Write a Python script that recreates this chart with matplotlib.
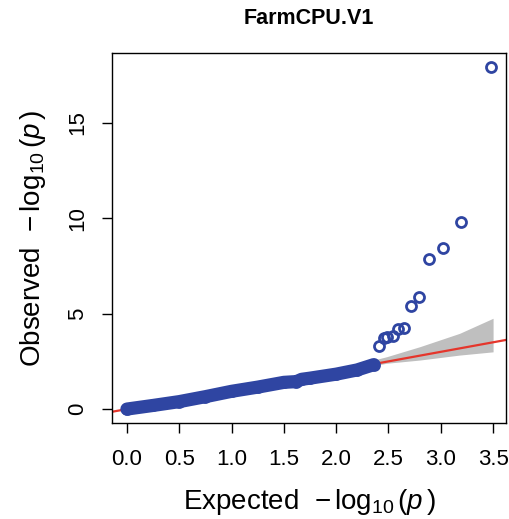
import matplotlib
matplotlib.use("Agg")
import matplotlib.pyplot as plt

# ---------------- COLORS ----------------
BLUE = "#2f45a2"
RED = "#e5352b"
GRAY = "#bfbfbf"

# ---------------- DATA ----------------
# bulk of the SNPs, dense band of points
bulk_expected = [0.0, 0.25, 0.5, 0.75, 1.0, 1.25, 1.5, 1.62, 1.67, 1.75, 2.0, 2.2, 2.36]
bulk_observed = [0.0, 0.19, 0.39, 0.65, 0.93, 1.15, 1.40, 1.44, 1.56, 1.62, 1.83, 2.05, 2.33]

# top SNPs, separate circles
top_expected = [3.48, 3.19, 3.02, 2.89, 2.79, 2.72, 2.65, 2.59, 2.54, 2.49, 2.46, 2.41]
top_observed = [17.93, 9.81, 8.43, 7.88, 5.86, 5.40, 4.26, 4.18, 3.83, 3.79, 3.72, 3.32]

# 95% confidence band
ci_expected = [1.9, 2.2, 2.48, 2.8, 3.18, 3.50]
ci_upper = [2.00, 2.35, 2.74, 3.27, 3.97, 4.76]
ci_lower = [1.82, 2.10, 2.40, 2.57, 2.83, 3.00]

x_ticks = [0.0, 0.5, 1.0, 1.5, 2.0, 2.5, 3.0, 3.5]
y_ticks = [0, 5, 10, 15]

# ---------------- FIGURE ----------------
plt.rcParams["font.family"] = ["Liberation Sans", "DejaVu Sans"]
plt.rcParams["mathtext.fontset"] = "custom"
plt.rcParams["mathtext.rm"] = "Liberation Sans"
plt.rcParams["mathtext.it"] = "Liberation Sans:italic"

fig = plt.figure(figsize=(5.09, 5.19), dpi=100)
ax = fig.add_axes([0.220, 0.185, 0.774, 0.713])

ax.fill_between(ci_expected, ci_lower, ci_upper, color=GRAY, lw=0, zorder=1)
ax.axline((0, 0), slope=1, color=RED, lw=1.6, zorder=2)

# dense band
ax.plot(bulk_expected, bulk_observed, color=BLUE, lw=9.5,
        solid_capstyle="round", solid_joinstyle="round", zorder=3)
ax.plot(bulk_expected, bulk_observed, "o", ms=7.2, mfc="none",
        mec=BLUE, mew=2.0, zorder=3)
ax.plot(top_expected, top_observed, "o", ms=7.2, mfc="none",
        mec=BLUE, mew=2.0, zorder=4)

ax.set_xlim(-0.143, 3.623)
ax.set_ylim(-0.73, 18.67)
ax.set_xticks(x_ticks)
ax.set_xticklabels(["%.1f" % t for t in x_ticks])
ax.set_yticks(y_ticks)
ax.set_yticklabels([str(t) for t in y_ticks], rotation=90, va="center")

ax.tick_params(direction="out", length=7, width=1, labelsize=16, pad=12)
ax.tick_params(axis="y", pad=10)
for s in ax.spines.values():
    s.set_linewidth(1)

ax.set_xlabel(r"Expected  $-\,\log_{10}(p\,)$", fontsize=20, labelpad=12)
ax.set_ylabel(r"Observed  $-\,\log_{10}(p\,)$", fontsize=20, labelpad=14)

fig.text(0.606, 1 - 18 / 519, "FarmCPU.V1", ha="center", va="center",
         fontsize=15.5, fontweight="bold")

fig.savefig("out.png", dpi=100)
